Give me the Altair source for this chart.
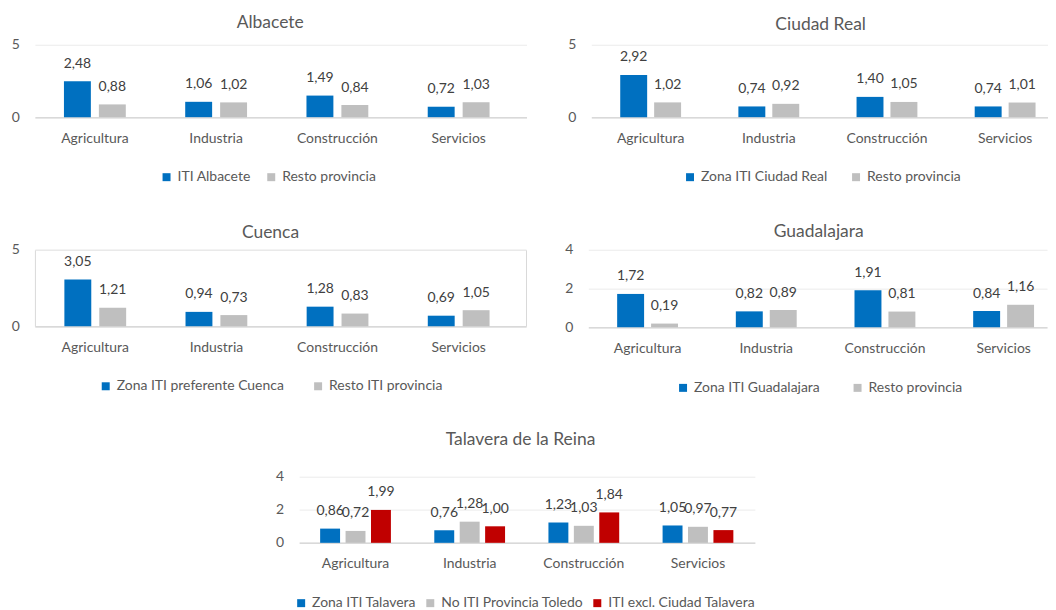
import altair as alt
import pandas as pd

sectors = ["Agricultura", "Industria", "Construcción", "Servicios"]

alb_series = ["ITI Albacete", "Resto provincia"]
alb_iti = [2.48, 1.06, 1.49, 0.72]
alb_resto = [0.88, 1.02, 0.84, 1.03]

cr_series = ["Zona ITI Ciudad Real", "Resto provincia"]
cr_iti = [2.92, 0.74, 1.40, 0.74]
cr_resto = [1.02, 0.92, 1.05, 1.01]

cu_series = ["Zona ITI preferente Cuenca", "Resto ITI provincia"]
cu_iti = [3.05, 0.94, 1.28, 0.69]
cu_resto = [1.21, 0.73, 0.83, 1.05]

gu_series = ["Zona ITI Guadalajara", "Resto provincia"]
gu_iti = [1.72, 0.82, 1.91, 0.84]
gu_resto = [0.19, 0.89, 0.81, 1.16]

ta_series = ["Zona ITI Talavera", "No ITI Provincia Toledo", "ITI excl. Ciudad Talavera"]
ta_zona = [0.86, 0.76, 1.23, 1.05]
ta_no = [0.72, 1.28, 1.03, 0.97]
ta_excl = [1.99, 1.00, 1.84, 0.77]

BLUE, GREY, RED = "#0070C0", "#BFBFBF", "#C00000"
FONT = "Lato"
FS = 14


def panel(title, series, values, colors, ymax, yticks, width, height,
          p_in, p_out, align, off_pad, title_offset, title_dx, legend_x, legend_y,
          col_pad, legend_pad=0, stroke=None):
    rows = []
    for s, vals in zip(series, values):
        for c, v in zip(sectors, vals):
            rows.append({"sector": c, "serie": s, "valor": v})
    df = pd.DataFrame(rows)
    base = alt.Chart(df).transform_calculate(
        lbl="replace(format(datum.valor, '.2f'), '.', ',')"
    ).encode(
        x=alt.X("sector:N", sort=sectors,
                scale=alt.Scale(paddingInner=p_in, paddingOuter=p_out, align=align),
                axis=alt.Axis(title=None, labelAngle=0, ticks=False, grid=False,
                              domainColor="#d9d9d9", domainWidth=1.5,
                              labelPadding=14)),
        xOffset=alt.XOffset("serie:N", sort=series,
                            scale=alt.Scale(paddingInner=off_pad, paddingOuter=0)),
        y=alt.Y("valor:Q", scale=alt.Scale(domain=[0, ymax], nice=False, zero=True),
                axis=alt.Axis(title=None, values=yticks, ticks=False, domain=False,
                              labelPadding=15.5, gridColor="#ebebeb")),
    )
    bars = base.mark_bar().encode(
        color=alt.Color("serie:N", sort=series,
                        scale=alt.Scale(domain=series, range=colors),
                        legend=alt.Legend(title=None, orient="none",
                                          legendX=legend_x - legend_pad,
                                          legendY=legend_y - legend_pad,
                                          direction="horizontal",
                                          symbolType="square", symbolSize=64,
                                          symbolStrokeWidth=0,
                                          columnPadding=col_pad, labelOffset=4,
                                          labelLimit=300, padding=legend_pad))
    )
    labels = base.mark_text(baseline="alphabetic", dy=-13.5, fontSize=FS,
                            color="#404040", font=FONT).encode(text="lbl:N")
    props = dict(
        title=alt.TitleParams(title, offset=title_offset, baseline="alphabetic",
                              frame="group", dx=title_dx),
        width=width, height=height,
    )
    if stroke:
        props["view"] = alt.ViewBackground(stroke=stroke, strokeWidth=1)
    return alt.layer(bars, labels).properties(**props)


alb = panel("Albacete", alb_series, [alb_iti, alb_resto], [BLUE, GREY], 5, [0, 5],
            493, 72.6, 0.49, 0.272, 0.44, 0.229, -8, -10.5, 125, 125.8, 13,
            legend_pad=3.4)
cr = panel("Ciudad Real", cr_series, [cr_iti, cr_resto], [BLUE, GREY], 5, [0, 5],
           458, 72.6, 0.485, 0.175, 0.699, 0.206, -10, 1, 92, 125.8, 21.5,
           legend_pad=3.4)
cu = panel("Cuenca", cu_series, [cu_iti, cu_resto], [BLUE, GREY], 5, [0, 5],
           492.5, 76.7, 0.49, 0.272, 0.447, 0.229, -13.1, -10, 64, 129.9, 27,
           stroke="#d9d9d9")
gu = panel("Guadalajara", gu_series, [gu_iti, gu_resto], [BLUE, GREY], 4, [0, 2, 4],
           460, 77.7, 0.487, 0.176, 0.69, 0.206, -12, 1, 88, 131.5, 30)
ta = panel("Talavera de la Reina", ta_series, [ta_zona, ta_no, ta_excl],
           [BLUE, GREY, RED], 4, [0, 2, 4],
           457, 66.3, 0.38, 0.186, 0.494, 0.216, 7.7, -6.5, -5, 119.8, 6.5)

spacer = alt.Chart(pd.DataFrame({"v": [0]})).mark_point(opacity=0).encode(
    x=alt.value(100), y=alt.value(5)).properties(width=241, height=10)


def ind(c):
    return c.resolve_scale(color="independent", x="independent", y="independent",
                           xOffset="independent").resolve_legend(color="independent")


row1 = ind(alt.hconcat(alb, cr, spacing=41))
row2 = ind(alt.hconcat(cu, gu, spacing=38))
row3 = ind(alt.hconcat(spacer, ta, spacing=0))

chart = ind(alt.vconcat(row1, row2, row3, spacing=34.6)).properties(
    padding={"left": 2, "top": 5, "right": 0, "bottom": 0}
).configure(font=FONT).configure_view(stroke=None).configure_axis(
    labelFont=FONT, labelFontSize=FS, labelColor="#595959"
).configure_legend(
    labelFont=FONT, labelFontSize=FS, labelColor="#595959"
).configure_title(
    font=FONT, fontSize=17.5, color="#595959", fontWeight="normal"
)

chart.save("out.html", embed_options={"renderer": "svg", "actions": False})
